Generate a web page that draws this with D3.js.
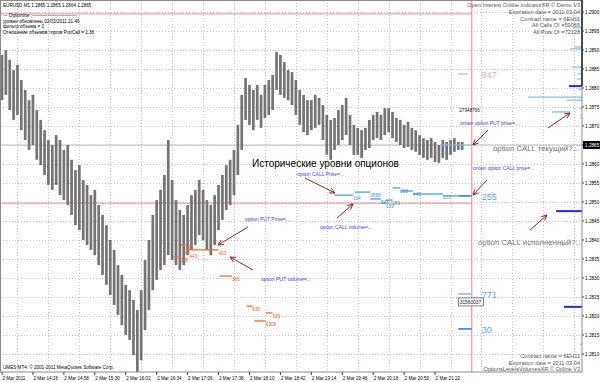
<!DOCTYPE html>
<html><head><meta charset="utf-8">
<script src="https://cdn.jsdelivr.net/npm/d3@7"></script>
<style>body{margin:0;background:#fff}svg{display:block}text{font-family:"Liberation Sans",Arial,sans-serif}</style>
</head><body><svg id="c" width="600" height="382"></svg>
<script>
// ---------------- data ----------------
const symbolLine = "EURUSD,M1  1.2865 1.2865 1.2864 1.2865";
const infoLines = ["--- Optionline ;-----------------------------", "уровни обновлены 02/03/2011  21:46", "фильтр объема = 0", "Отношение объемов торгов Put/Call = 1.36"];
const oiInfoLines = ["Open Interest Online indicatorXR © Demo V3", "Expiration date = 2011.03.04", "Contract name = 6EH11", "All Calls OI =59066", "All Puts OI =72128"];
const levelsInfoLines = ["Contract name = 6EH11", "Expiration date = 2011.03.04", "OptionsLevelsVolumesXR © Online V3"];
const copyright = "UMES MT4, © 2001-2011 MetaQuotes Software Corp.";

const startTime = "13:54";
const endTime = "23:54";
const barStepMinutes = 4;
const barHigh = [1.28887,1.28900,1.28874,1.28847,1.28861,1.28821,1.28795,1.28768,1.28782,1.28742,
1.28716,1.28689,1.28663,1.28650,1.28676,1.28663,1.28637,1.28650,1.28611,1.28584,
1.28597,1.28558,1.28545,1.28518,1.28532,1.28492,1.28466,1.28439,1.28400,1.28374,
1.28334,1.28308,1.28282,1.28268,1.28242,1.28216,1.28268,1.28347,1.28400,1.28466,
1.28505,1.28532,1.28571,1.28663,1.28558,1.28505,1.28479,1.28466,1.28492,1.28518,
1.28532,1.28558,1.28532,1.28505,1.28492,1.28518,1.28545,1.28571,1.28597,1.28611,
1.28637,1.28703,1.28782,1.28826,1.28808,1.28795,1.28808,1.28782,1.28808,1.28821,
1.28834,1.28895,1.28887,1.28868,1.28847,1.28842,1.28821,1.28795,1.28782,1.28768,
1.28768,1.28782,1.28774,1.28755,1.28729,1.28716,1.28721,1.28742,1.28755,1.28774,
1.28729,1.28703,1.28695,1.28689,1.28695,1.28716,1.28729,1.28737,1.28729,1.28747,
1.28747,1.28737,1.28721,1.28716,1.28703,1.28711,1.28695,1.28689,1.28676,1.28668,
1.28663,1.28668,1.28658,1.28650,1.28663,1.28658,1.28663,1.28668,1.28658,1.28658];
const barLow = [1.28768,1.28782,1.28742,1.28716,1.28729,1.28689,1.28663,1.28637,1.28650,1.28611,
1.28597,1.28571,1.28545,1.28532,1.28545,1.28518,1.28505,1.28492,1.28466,1.28439,
1.28426,1.28400,1.28387,1.28374,1.28360,1.28334,1.28308,1.28282,1.28255,1.28229,
1.28203,1.28176,1.28150,1.28137,1.28097,1.28053,1.28084,1.28163,1.28216,1.28268,
1.28295,1.28321,1.28334,1.28360,1.28347,1.28334,1.28321,1.28334,1.28360,1.28374,
1.28387,1.28413,1.28400,1.28374,1.28360,1.28387,1.28426,1.28453,1.28479,1.28492,
1.28518,1.28571,1.28637,1.28716,1.28703,1.28689,1.28716,1.28695,1.28721,1.28729,
1.28742,1.28795,1.28782,1.28774,1.28768,1.28755,1.28729,1.28703,1.28684,1.28676,
1.28689,1.28695,1.28703,1.28663,1.28624,1.28611,1.28637,1.28650,1.28663,1.28676,
1.28650,1.28624,1.28624,1.28616,1.28637,1.28642,1.28663,1.28668,1.28663,1.28676,
1.28684,1.28668,1.28658,1.28650,1.28642,1.28645,1.28637,1.28632,1.28624,1.28616,
1.28611,1.28616,1.28605,1.28603,1.28616,1.28611,1.28624,1.28632,1.28637,1.28637];
const currentPrice = 1.2865;
const currentPriceLabel = "1.2865";

const priceTicks = ["1.2900","1.2895","1.2890","1.2885","1.2880","1.2875","1.2870","1.2865","1.2860","1.2855","1.2850","1.2845","1.2840","1.2835","1.2830","1.2825","1.2820","1.2815","1.2810"];
const timeTicks = ["13:54","14:26","14:58","15:30","16:02","16:34","17:06","17:38","18:10","18:42","19:14","19:46","20:18","20:50","21:22"];
const timeTickLabels = ["2 Mar 2011","2 Mar 14:26","2 Mar 14:58","2 Mar 15:30","2 Mar 16:02","2 Mar 16:34","2 Mar 17:06","2 Mar 17:38","2 Mar 18:10","2 Mar 18:42","2 Mar 19:14","2 Mar 19:46","2 Mar 20:18","2 Mar 20:50","2 Mar 21:22"];
const gridTimes = ["14:10","14:42","15:14","15:46","16:18","16:50","17:22","17:54","18:26","18:58","19:30","20:02","20:34","21:06","21:38","22:10","22:42","23:14","23:46"];

// red reference lines
const redLevelPrices = [1.28995, 1.28497];
const updateTime = "21:46";
const levelsEndTime = "22:00";

// historical CALL levels
const callHistStart = ["19:38","19:59","20:15","20:26","20:31","20:38","20:46","20:59","21:30"];
const callHistEnd   = ["19:57","20:15","20:26","20:31","20:38","20:46","20:59","21:30","21:46"];
const callHistPrice = [1.28518,1.28526,1.28508,1.28497,1.28505,1.28537,1.28529,1.28521,1.28516];
const callHistVol   = ["104","2868","545","139","151","288","446","133",""];
// historical PUT levels
const putHistStart = ["16:51","16:59","17:03","17:06","17:39","18:07","18:15","18:27"];
const putHistEnd   = ["16:59","17:04","17:08","17:38","17:52","18:13","18:27","18:34"];
const putHistPrice = [1.28355,1.28387,1.28366,1.28374,1.28305,1.28226,1.28187,1.28208];
const putHistVol   = ["395","574","443","403","385","630","6909","635"];
// current (online) levels
const callNowPrice = [1.28516, 1.28258, 1.28166];
const callNowVol = ["255","771","30"];
const putNowPrice = [1.28837];
const putNowVol = ["847"];
const callNearPriceStart = "21:27";
const callTekPrice = 1.28737;
const callTekStart = "23:23", callTekEnd = "23:42";
const callVolumeTotal = "31560037";
const putVolumeTotal = "27948766";

// open interest profile (right edge)
const oiLightPrice = [1.28958,1.28908,1.28903,1.28855,1.28837,1.28824,1.28797,1.28776,1.28768,1.28747,1.28729,1.28721,1.28126];
const oiLightValue = [450,350,600,500,200,250,200,2700,750,100,100,100,100];
const oiDarkPrice = [1.28805,1.28476,1.28224];
const oiDarkValue = [650,1300,900];

// ---------------- chart ----------------
const W = 600, H = 382, R = 582, B = 372;
const svg = d3.select("#c");
const parseT = d3.timeParse("%H:%M");
const x = d3.scaleTime().domain([parseT(startTime), parseT(endTime)]).range([2, R]);
const y = d3.scaleLinear().domain([1.2900, 1.2810]).range([12, 354]);
const oiScale = d3.scaleLinear().domain([0, 3000]).range([0, 60]);

svg.append("rect").attr("width", W).attr("height", H).attr("fill", "#fff");
svg.append("defs").append("clipPath").attr("id", "clip")
  .append("rect").attr("x", 0).attr("y", 0).attr("width", R).attr("height", B);
const plot = svg.append("g").attr("clip-path", "url(#clip)");

// grid
plot.selectAll(".hg").data(priceTicks).join("line")
  .attr("x1", 0).attr("x2", R).attr("y1", d => Math.round(y(+d)) + 0.5).attr("y2", d => Math.round(y(+d)) + 0.5)
  .attr("stroke", "#b4b4b4").attr("stroke-dasharray", "1,2").attr("stroke-width", 0.8);
plot.selectAll(".vg").data(gridTimes).join("line")
  .attr("x1", d => Math.round(x(parseT(d))) + 0.5).attr("x2", d => Math.round(x(parseT(d))) + 0.5)
  .attr("y1", 0).attr("y2", B)
  .attr("stroke", "#b4b4b4").attr("stroke-dasharray", "1,2").attr("stroke-width", 0.8);

// current price line
plot.append("line").attr("x1", 0).attr("x2", R)
  .attr("y1", y(currentPrice)).attr("y2", y(currentPrice))
  .attr("stroke", "#b3bccb").attr("stroke-width", 1);

// red reference lines
plot.selectAll(".rl").data(redLevelPrices).join("line")
  .attr("x1", 0).attr("x2", x(parseT(levelsEndTime)))
  .attr("y1", d => y(d)).attr("y2", d => y(d))
  .attr("stroke", "#f08a8a").attr("stroke-width", 1);
plot.append("line").attr("x1", x(parseT(levelsEndTime))).attr("x2", x(parseT(levelsEndTime)))
  .attr("y1", 0).attr("y2", B).attr("stroke", "#f08080").attr("stroke-width", 1);

// price bars
const t0 = parseT(startTime);
const bars = barHigh.map((h, i) => ({ t: d3.timeMinute.offset(t0, i * barStepMinutes), h, l: barLow[i] }));
plot.selectAll(".bar").data(bars).join("line")
  .attr("x1", d => x(d.t)).attr("x2", d => x(d.t))
  .attr("y1", d => y(d.h)).attr("y2", d => y(d.l))
  .attr("stroke", "#747474").attr("stroke-width", 2.7);

// historical CALL levels
const callHist = callHistStart.map((s, i) => ({ s: parseT(s), e: parseT(callHistEnd[i]), p: callHistPrice[i], v: callHistVol[i] }));
plot.selectAll(".ch").data(callHist).join("line")
  .attr("x1", d => x(d.s)).attr("x2", d => x(d.e)).attr("y1", d => y(d.p)).attr("y2", d => y(d.p))
  .attr("stroke", "#5aaef0").attr("stroke-width", 1.5);
plot.selectAll(".chl").data(callHist).join("text")
  .attr("x", d => x(d.e)).attr("y", d => y(d.p) + 5)
  .attr("font-size", 4.6).attr("fill", "#3a8fe0").text(d => d.v);
plot.append("line").attr("x1", x(parseT(callNearPriceStart))).attr("x2", x(parseT(levelsEndTime)))
  .attr("y1", y(currentPrice)).attr("y2", y(currentPrice)).attr("stroke", "#8cc6ee").attr("stroke-width", 1.2);

// historical PUT levels
const putHist = putHistStart.map((s, i) => ({ s: parseT(s), e: parseT(putHistEnd[i]), p: putHistPrice[i], v: putHistVol[i] }));
plot.selectAll(".ph").data(putHist).join("line")
  .attr("x1", d => x(d.s)).attr("x2", d => x(d.e)).attr("y1", d => y(d.p)).attr("y2", d => y(d.p))
  .attr("stroke", "#ff6a2a").attr("stroke-width", 1.3);
plot.selectAll(".phl").data(putHist).join("text")
  .attr("x", d => x(d.e)).attr("y", d => y(d.p) + 5)
  .attr("font-size", 4.6).attr("fill", "#e8602a").text(d => d.v);

// current (online) levels
const nowX1 = x(parseT(updateTime)), nowX2 = x(parseT(levelsEndTime));
plot.selectAll(".cn").data(callNowPrice).join("line")
  .attr("x1", nowX1).attr("x2", nowX2).attr("y1", d => y(d)).attr("y2", d => y(d))
  .attr("stroke", (d, i) => i === 1 ? "#7fc0ee" : "#2f7fe6").attr("stroke-width", 1.6);
plot.selectAll(".cnl").data(callNowPrice).join("text")
  .attr("x", nowX2 + 10).attr("y", d => y(d) + 4)
  .attr("font-size", 9).attr("fill", "#58a8ea").text((d, i) => callNowVol[i]);
plot.selectAll(".pn").data(putNowPrice).join("line")
  .attr("x1", nowX1).attr("x2", x(parseT("21:56"))).attr("y1", d => y(d)).attr("y2", d => y(d))
  .attr("stroke", "#f5a8a8").attr("stroke-width", 1.3);
plot.selectAll(".pnl").data(putNowPrice).join("text")
  .attr("x", nowX2 + 10).attr("y", d => y(d) + 4)
  .attr("font-size", 9).attr("fill", "#f5a8a8").text((d, i) => putNowVol[i]);

// total volumes
plot.append("text").attr("x", nowX1 + 1).attr("y", y(currentPrice) - 33).attr("font-size", 4.6).attr("fill", "#111").text(putVolumeTotal);
const boxY = y(callNowPrice[1]) + 4;
plot.append("rect").attr("x", nowX1).attr("y", boxY).attr("width", 25).attr("height", 8)
  .attr("fill", "#fff").attr("stroke", "#333").attr("stroke-width", 0.6);
plot.append("text").attr("x", nowX1 + 1.5).attr("y", boxY + 6).attr("font-size", 4.8).attr("fill", "#111").text(callVolumeTotal);

// "current call" marker
plot.append("line").attr("x1", x(parseT(callTekStart))).attr("x2", x(parseT(callTekEnd)))
  .attr("y1", y(callTekPrice)).attr("y2", y(callTekPrice)).attr("stroke", "#6fb8ec").attr("stroke-width", 1.2);

// OI profile
plot.selectAll(".oil").data(oiLightPrice).join("line")
  .attr("x1", (d, i) => R - oiScale(oiLightValue[i])).attr("x2", R)
  .attr("y1", d => y(d)).attr("y2", d => y(d)).attr("stroke", "#7dbdea").attr("stroke-width", 1.2);
plot.selectAll(".oid").data(oiDarkPrice).join("line")
  .attr("x1", (d, i) => R - oiScale(oiDarkValue[i])).attr("x2", R)
  .attr("y1", d => y(d)).attr("y2", d => y(d)).attr("stroke", "#1530e8").attr("stroke-width", 2);

// annotations
const blue = "#3f3ff2", gray = "#707070";
const notes = [
  { t: "Исторические уровни опционов", x: 252, y: 167, s: 10, c: "#000" },
  { t: "option CALL Prise=...", x: 297, y: 176, s: 5, c: blue },
  { t: "option PUT Prise=...", x: 245, y: 221, s: 5, c: blue },
  { t: "option CALL volume=...", x: 320, y: 229, s: 5, c: blue },
  { t: "option PUT volume=...", x: 261, y: 281, s: 5, c: blue },
  { t: "onlain option PUT prise=...", x: 460, y: 125, s: 5, c: blue },
  { t: "onlain option CALL prise=...", x: 473, y: 170, s: 5, c: blue },
  { t: "option CALL текущий?...", x: 493, y: 151, s: 7.8, c: gray },
  { t: "option CALL исполненный?...", x: 478, y: 245, s: 7.8, c: gray }
];
plot.selectAll(".note").data(notes).join("text")
  .attr("x", d => d.x).attr("y", d => d.y).attr("font-size", d => d.s).attr("fill", d => d.c).text(d => d.t);

const arrows = [
  [305,178,335,193],[337,218,353,204],[248,227,218,245],[253,270,230,257],
  [487,180,473,195],[488,130,473,145],[530,230,547,215],[548,128,570,113]
];
const ag = plot.append("g").attr("stroke", "#9b1d1d").attr("stroke-width", 1).attr("fill", "none");
arrows.forEach(([x1,y1,x2,y2]) => {
  ag.append("line").attr("x1", x1).attr("y1", y1).attr("x2", x2).attr("y2", y2);
  const a = Math.atan2(y2 - y1, x2 - x1), L = 6;
  const p1 = [x2 - L*Math.cos(a - 0.45), y2 - L*Math.sin(a - 0.45)];
  const p2 = [x2 - L*Math.cos(a + 0.45), y2 - L*Math.sin(a + 0.45)];
  ag.append("path").attr("d", `M${p1}L${x2},${y2}L${p2}`);
});

// info texts
svg.append("text").attr("x", 3).attr("y", 7).attr("font-size", 4.6).attr("fill", "#000").text(symbolLine);
svg.selectAll(".info").data(infoLines).join("text")
  .attr("x", 3).attr("y", (d, i) => [17, 22.5, 28, 34][i]).attr("font-size", 4.6).attr("fill", "#000").text(d => d);
svg.selectAll(".oi").data(oiInfoLines).join("text")
  .attr("x", 580).attr("y", (d, i) => 7 + i * 6.8).attr("text-anchor", "end")
  .attr("font-family", "Liberation Serif").attr("font-size", 5.6).attr("fill", "#555").text(d => d);
svg.selectAll(".lv").data(levelsInfoLines).join("text")
  .attr("x", 580).attr("y", (d, i) => 358 + i * 6.5).attr("text-anchor", "end")
  .attr("font-family", "Liberation Serif").attr("font-size", 5.6).attr("fill", "#555").text(d => d);
svg.append("text").attr("x", 3).attr("y", 369).attr("font-size", 4.6).attr("fill", "#000").text(copyright);

// frame
svg.append("rect").attr("x", 0.5).attr("y", 0.5).attr("width", R - 0.5).attr("height", B - 0.5)
  .attr("fill", "none").attr("stroke", "#8a8a8a").attr("stroke-width", 1);
svg.append("line").attr("x1", R).attr("x2", R).attr("y1", 0).attr("y2", y(oiDarkPrice[0]))
  .attr("stroke", "#222").attr("stroke-width", 1.5);

// price axis
svg.selectAll(".pt").data(priceTicks).join("line")
  .attr("x1", R).attr("x2", R + 2).attr("y1", d => y(+d)).attr("y2", d => y(+d)).attr("stroke", "#444");
svg.selectAll(".pl").data(priceTicks.filter(d => d !== currentPriceLabel)).join("text")
  .attr("x", R + 3).attr("y", d => y(+d) + 1.8).attr("font-size", 4.7).attr("fill", "#000").text(d => d);
svg.append("rect").attr("x", R + 1).attr("y", y(currentPrice) - 4).attr("width", 17).attr("height", 8).attr("fill", "#000");
svg.append("text").attr("x", R + 3).attr("y", y(currentPrice) + 1.8).attr("font-size", 4.7).attr("fill", "#fff").text(currentPriceLabel);

// time axis
svg.selectAll(".tt").data(timeTicks).join("line")
  .attr("x1", d => x(parseT(d))).attr("x2", d => x(parseT(d))).attr("y1", B).attr("y2", B + 3).attr("stroke", "#444");
svg.selectAll(".tl").data(timeTicks).join("text")
  .attr("x", d => x(parseT(d)) + 0.5).attr("y", 380).attr("font-size", 4.6).attr("fill", "#000")
  .text((d, i) => timeTickLabels[i]);
</script></body></html>
